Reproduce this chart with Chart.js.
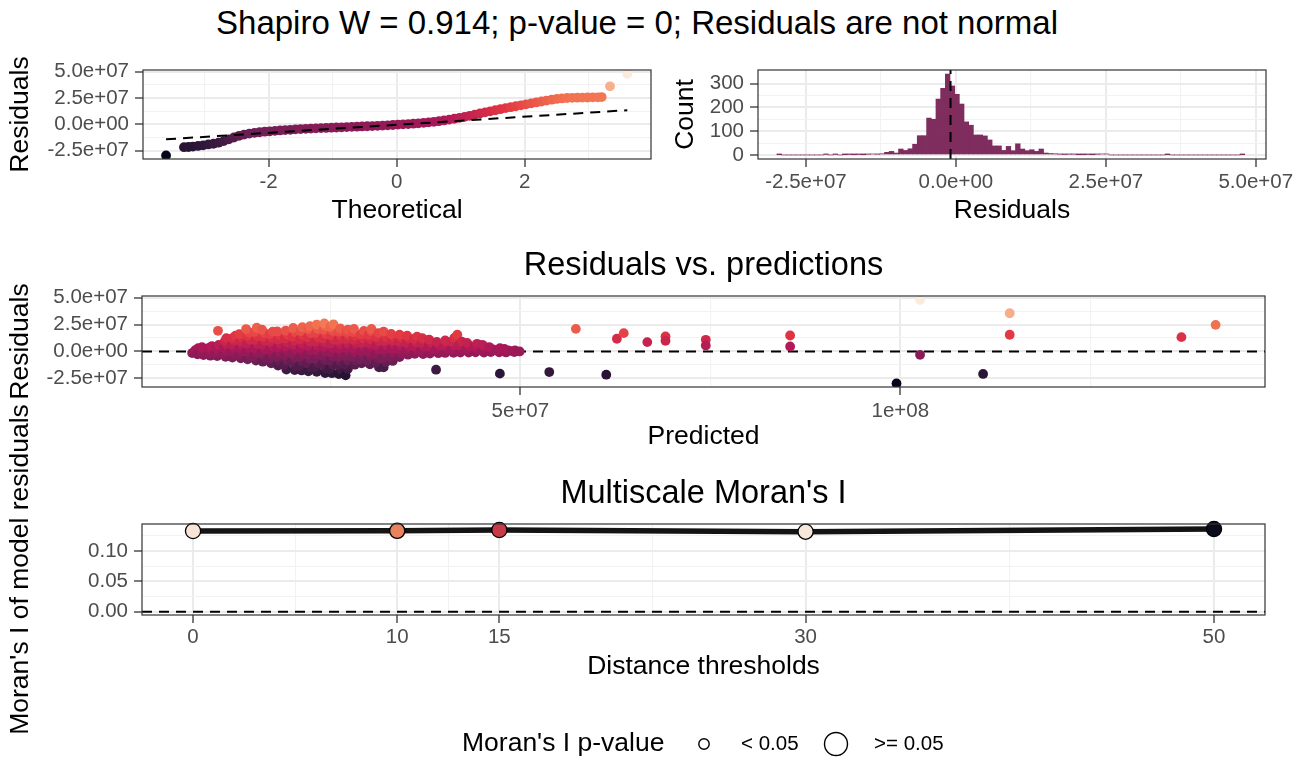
<!DOCTYPE html>
<html>
<head>
<meta charset="utf-8">
<script src="https://cdn.jsdelivr.net/npm/chart.js@4.4.1/dist/chart.umd.min.js"></script>
<style>
html,body{margin:0;padding:0;background:#fff;}
#wrap{position:relative;width:1302px;height:762px;overflow:hidden;background:#fff;}
#wrap canvas{position:absolute;}
#mainTitle{position:absolute;left:0;top:0;width:1274px;height:46px;line-height:46px;text-align:center;
  font-family:"Liberation Sans",Arial,Helvetica,sans-serif;font-size:33px;color:#000;white-space:nowrap;}
</style>
</head>
<body>
<div id="wrap">
  <div id="mainTitle">Shapiro W = 0.914; p-value = 0; Residuals are not normal</div>
  <canvas id="qq" width="660" height="232" style="left:0px;top:0px"></canvas>
  <canvas id="hist" width="642" height="232" style="left:660px;top:0px"></canvas>
  <canvas id="rvp" width="1302" height="230" style="left:0px;top:232px"></canvas>
  <canvas id="moran" width="1302" height="382" style="left:0px;top:380px"></canvas>
</div>
<script>
// ================= DATA (residuals & predictions in millions) =================
const MILLION = 1e6;

// Normal Q-Q plot: theoretical quantile vs sorted residual
const qqTheoretical = [-3.60,-3.32,-3.25,-3.18,-3.10,-3.02,
  -2.94,-2.86,-2.78,-2.70,-2.62,-2.54,-2.46,-2.38,-2.30,-2.22,-2.14,-2.06,
  -1.98,-1.90,-1.82,-1.74,-1.66,-1.58,-1.50,-1.42,-1.34,-1.26,-1.18,-1.10,-1.02,
  -0.94,-0.86,-0.78,-0.70,-0.62,-0.54,-0.46,-0.38,-0.30,-0.22,-0.14,-0.06,
  0.02,0.10,0.18,0.26,0.34,0.42,0.50,0.58,0.66,0.74,0.82,0.90,0.98,
  1.06,1.14,1.22,1.30,1.38,1.46,1.54,1.62,1.70,1.78,1.86,1.94,
  2.02,2.10,2.18,2.26,2.34,2.42,2.50,2.58,2.66,2.74,2.82,2.90,2.98,
  3.06,3.14,3.20,3.33,3.60];
const qqResidualM = [-29.7,-21.8,-21.6,-21.2,-20.6,-20.0,
  -19.2,-18.5,-17.5,-16.0,-14.3,-12.6,-11.0,-9.8,-8.9,-8.2,-7.6,-7.1,
  -6.7,-6.3,-5.9,-5.6,-5.3,-4.9,-4.6,-4.4,-4.1,-3.9,-3.7,-3.5,-3.3,
  -3.1,-2.9,-2.7,-2.5,-2.3,-2.1,-1.9,-1.7,-1.5,-1.3,-1.0,-0.7,
  -0.3,-0.1,0.2,0.5,0.9,1.3,1.8,2.3,2.9,3.6,4.4,5.2,6.1,
  7.0,8.0,9.1,10.2,11.3,12.3,13.3,14.3,15.3,16.2,17.1,18.0,
  18.9,19.8,20.7,21.6,22.5,23.3,24.0,24.5,24.9,25.1,25.2,25.3,25.4,
  25.5,25.6,25.8,36.0,47.8];
const qqLineTheoretical = [-3.6, 3.6];
const qqLineResidualM = [-14.3, 13.3];

// Histogram of residuals (bin left edge, width, counts)
const histFirstEdgeM = -29.85;
const histBinWidthM = 0.78;
const histCounts = [
  1,0,0,0,0,0,0,0,0,0,
  2,0,2,0,1,2,1,2,1,3,
  4,3,5,11,15,8,25,19,26,45,
  81,81,155,150,235,280,340,290,255,214,
  139,125,84,84,80,63,38,38,19,36,
  18,47,25,18,22,15,25,8,6,5,
  3,2,3,3,1,1,2,1,3,4,
  4,0,0,0,0,0,0,0,0,0,
  0,0,0,1,0,0,0,0,0,0,
  0,0,0,0,0,0,0,0,0,1];
const histMedianM = -0.9;

// Residuals vs predictions: [predicted, residual] in millions
const rvpCluster = [
 [6.8,-1.5],[7.2,1.2],[7.6,3.0],[7.5,-2.6],
 [8.3,-3.4],[8.0,-0.6],[8.4,2.2],[8.1,4.0],
 [9.2,-3.9],[8.9,-1.6],[9.3,0.8],[9.0,3.4],[9.4,5.0],
 [10.1,-4.3],[9.8,-2.0],[10.2,0.4],[10.0,2.9],[10.3,6.0],[10.2,19.2],
 [11.2,-5.0],[10.9,-2.4],[11.3,0.2],[11.0,3.1],[11.4,6.3],[11.1,9.4],[11.3,12.4],
 [12.1,-5.6],[12.4,-2.8],[11.9,0.1],[12.3,3.2],[12.0,6.4],[12.4,9.6],[12.1,12.4],[12.5,14.6],
 [13.2,-6.4],[12.9,-3.3],[13.3,-0.1],[13.0,3.1],[13.4,6.3],[13.1,9.6],[13.4,12.9],[13.0,16.1],
 [14.1,-7.3],[14.4,-3.8],[13.9,-0.3],[14.3,3.4],[14.0,7.2],[14.4,11.0],[14.1,14.6],[14.3,17.6],[13.9,20.8],
 [15.2,-8.4],[14.9,-4.6],[15.3,-0.9],[15.0,2.8],[15.4,6.6],[15.1,10.5],[15.4,14.4],[15.0,18.1],[15.3,22.0],
 [16.1,-9.5],[16.4,-5.4],[15.9,-1.6],[16.3,2.3],[16.0,6.1],[16.4,9.8],[16.1,13.7],[16.3,17.2],[16.0,20.2],
 [17.2,-11.0],[16.9,-6.8],[17.3,-2.6],[17.0,1.6],[17.4,5.2],[17.1,9.0],[17.3,12.8],[17.0,16.1],[17.4,18.4],
 [18.1,-13.1],[18.4,-8.9],[17.9,-4.8],[18.3,-0.7],[18.0,3.3],[18.4,7.2],[18.1,11.0],[18.3,14.8],[18.0,18.6],
 [19.2,-16.8],[18.9,-12.4],[19.3,-8.0],[19.0,-3.8],[19.4,0.3],[19.1,4.4],[19.3,8.3],[19.0,12.1],[19.4,15.8],[19.1,19.3],
 [20.3,-17.2],[20.4,-13.6],[19.9,-9.8],[20.3,-5.9],[20.0,-1.9],[20.4,2.2],[20.1,6.1],[20.3,9.9],[20.0,13.8],[20.4,17.9],[20.1,21.8],
 [21.2,-17.6],[20.9,-13.5],[21.3,-9.2],[21.0,-5.0],[21.4,-1.0],[21.1,3.2],[21.3,7.1],[21.0,11.2],[21.4,15.1],[21.1,19.0],[21.3,22.6],
 [22.1,-18.4],[22.4,-14.6],[21.9,-10.8],[22.3,-6.9],[22.0,-3.0],[22.4,0.9],[22.1,5.1],[22.3,9.2],[22.0,13.0],[22.4,17.1],[22.1,20.8],[22.3,23.4],
 [23.2,-18.9],[22.9,-14.8],[23.3,-10.6],[23.0,-6.7],[23.4,-2.6],[23.1,1.3],[23.3,5.2],[23.0,9.1],[23.4,13.2],[23.1,17.0],[23.3,21.1],[23.2,25.0],
 [24.3,-20.0],[24.4,-15.8],[23.9,-11.9],[24.3,-7.9],[24.0,-3.9],[24.4,0.2],[24.1,4.1],[24.3,8.2],[24.0,12.1],[24.4,16.2],[24.1,20.1],[24.3,23.8],[24.2,26.1],
 [25.2,-20.2],[24.9,-16.3],[25.3,-12.4],[25.0,-8.6],[25.4,-4.8],[25.1,-0.9],[25.3,3.1],[25.0,7.2],[25.4,11.0],[25.1,15.1],[25.3,19.2],[25.0,22.9],[25.4,25.2],
 [26.1,-21.0],[26.4,-16.6],[25.9,-12.8],[26.3,-9.0],[26.0,-5.1],[26.4,-1.2],[26.1,2.7],[26.3,6.6],[26.0,10.5],[26.4,14.3],[26.1,18.2],[26.3,21.3],
 [27.0,-22.2],[27.3,-16.0],[26.9,-12.2],[27.3,-8.3],[27.0,-4.4],[27.4,-0.5],[27.1,3.4],[27.3,7.3],[27.0,11.2],[27.4,14.9],[27.1,18.0],[27.3,20.2],
 [28.2,-12.3],[28.4,-8.6],[27.9,-4.9],[28.3,-1.1],[28.0,2.8],[28.4,6.7],[28.1,10.6],[28.3,14.4],[28.0,18.0],[28.1,21.0],
 [29.1,-11.0],[28.9,-7.3],[29.3,-3.5],[29.0,0.3],[29.4,4.2],[29.1,8.1],[29.3,12.0],[29.0,15.8],[29.4,19.1],
 [30.2,-12.0],[29.9,-8.1],[30.3,-4.2],[30.0,-0.3],[30.4,3.6],[30.1,7.5],[30.3,11.4],[30.0,15.2],[30.4,18.8],[30.4,21.0],
 [31.4,-14.8],[31.0,-10.6],[31.3,-6.6],[30.9,-2.6],[31.3,1.4],[31.0,5.4],[31.4,9.4],[31.1,13.3],[31.3,17.0],
 [32.0,-14.8],[32.3,-9.8],[31.9,-5.9],[32.3,-2.0],[32.0,1.9],[32.4,5.8],[32.1,9.7],[32.3,13.5],[32.0,18.5],
 [33.2,-8.8],[32.9,-5.0],[33.3,-1.2],[33.0,2.6],[33.4,6.4],[33.1,10.2],[33.3,13.8],[33.0,16.2],
 [34.1,-5.2],[34.4,-1.6],[33.9,2.0],[34.3,5.6],[34.0,9.2],[34.4,12.6],[34.1,15.6],
 [35.2,-3.0],[34.9,0.6],[35.3,4.2],[35.0,7.8],[35.4,11.2],[35.1,14.6],
 [36.1,-2.2],[36.4,1.4],[35.9,5.0],[36.3,8.6],[36.0,11.6],[36.4,13.8],
 [37.2,-2.4],[36.9,1.0],[37.3,4.4],[37.0,7.8],[37.4,10.4],[37.1,12.4],
 [38.1,-2.0],[38.4,1.6],[37.9,5.0],[38.3,8.3],[38.0,11.0],
 [38.9,-16.9],[39.2,-1.6],[38.9,2.0],[39.3,5.4],[39.0,8.8],
 [40.1,-1.4],[40.4,2.2],[39.9,5.6],[40.3,8.6],[40.1,10.2],
 [41.2,-1.2],[40.9,2.2],[41.3,5.6],[41.0,9.1],[41.3,12.6],
 [41.7,15.5],[42.1,-1.0],[42.4,2.4],[41.9,5.8],[42.3,9.0],
 [43.2,-1.0],[42.9,2.2],[43.3,5.1],[43.0,8.0],
 [44.1,-0.8],[44.4,2.0],[43.9,4.6],[44.3,7.1],
 [45.2,-1.0],[44.9,1.6],[45.3,3.9],[45.0,6.2],
 [46.1,-0.6],[46.4,1.8],[45.9,4.1],
 [47.3,-20.6],[47.2,-0.8],[46.9,1.1],[47.3,3.0],
 [48.1,-0.9],[48.4,0.9],[47.9,2.4],
 [49.2,-0.6],[48.9,0.4],[49.3,1.0],
 [49.9,0.0]
];
const rvpOutliers = [
 [53.8,-19.1],[57.3,21.0],[61.3,-21.6],[62.7,11.8],[63.6,17.0],[66.7,8.7],
 [69.1,13.9],[69.1,9.9],[74.4,10.8],[74.4,5.6],[85.5,14.8],[85.5,4.6],
 [99.5,-29.7],[102.6,47.8],[102.6,-3.1],[110.9,-20.9],[114.4,35.5],[114.4,15.5],
 [137.0,13.3],[141.5,24.7]
];

// Multiscale Moran's I
const moranDistance = [0, 10, 15, 30, 50];
const moranI = [0.1330, 0.1333, 0.1346, 0.1318, 0.1362];
const moranPointFill = ['#F8E4D6', '#E9835E', '#C93A48', '#F7E6DA', '#0B0B1E'];

// Tick labels
const residTicksM = [-25, 0, 25, 50];
const residMinorM = [-12.5, 12.5, 37.5];
const residTickLabels = ['-2.5e+07', '0.0e+00', '2.5e+07', '5.0e+07'];
const qqTicks = [-2, 0, 2];
const qqMinor = [-3, -1, 1, 3];
const qqTickLabels = ['-2', '0', '2'];
const countTicks = [0, 100, 200, 300];
const countMinor = [50, 150, 250];
const countTickLabels = ['0', '100', '200', '300'];
const predTicksM = [50, 100];
const predMinorM = [25, 75, 125];
const predTickLabels = ['5e+07', '1e+08'];
const distTicks = [0, 10, 15, 30, 50];
const distMinor = [5, 12.5, 22.5, 40];
const distTickLabels = ['0', '10', '15', '30', '50'];
const moranTicks = [0, 0.05, 0.10];
const moranMinor = [0.025, 0.075, 0.125];
const moranTickLabels = ['0.00', '0.05', '0.10'];

const legendTitle = "Moran's I p-value";
const legendLabels = ['< 0.05', '>= 0.05'];

// ================= STYLE / HELPERS =================
const FONT = '"Liberation Sans", Arial, Helvetica, sans-serif';
const TICK_FONT = 20.5, AXIS_TITLE_FONT = 26.5, PANEL_TITLE_FONT = 32.5;
Chart.defaults.font.family = FONT;
Chart.defaults.color = '#000';
Chart.defaults.animation = false;
Chart.defaults.events = [];
Chart.defaults.plugins.legend.display = false;
Chart.defaults.plugins.tooltip.enabled = false;

const ROCKET = ['#03051A','#35193E','#701F57','#AD1759','#E13342','#F37651','#F6B48F','#FAEBDD'];
function hexRgb(h){return [parseInt(h.slice(1,3),16),parseInt(h.slice(3,5),16),parseInt(h.slice(5,7),16)];}
function rocket(t){
  t = Math.max(0, Math.min(1, t));
  const n = ROCKET.length - 1;
  const i = Math.min(n - 1, Math.floor(t * n));
  const f = t * n - i;
  const a = hexRgb(ROCKET[i]), b = hexRgb(ROCKET[i + 1]);
  return 'rgb(' + a.map((v, k) => Math.round(v + (b[k] - v) * f)).join(',') + ')';
}
const allResidM = qqResidualM.concat(rvpCluster.map(p => p[1]), rvpOutliers.map(p => p[1]));
const RMIN = Math.min(...allResidM), RMAX = Math.max(...allResidM);
const residColor = m => rocket((m - RMIN) / (RMAX - RMIN));

function axis(o){
  const scale = o.scale || 1;
  const major = o.major.map(v => v * scale);
  const all = o.major.concat(o.minor).map(v => v * scale).sort((a, b) => a - b);
  const isMajor = v => major.some(m => Math.abs(m - v) < 1e-9 * Math.max(1, Math.abs(m)));
  const labelOf = v => { const i = major.findIndex(m => Math.abs(m - v) < 1e-9 * Math.max(1, Math.abs(m))); return i >= 0 ? o.labels[i] : ''; };
  return {
    type: 'linear', position: o.position, min: o.min, max: o.max, offset: false,
    afterBuildTicks: a => { a.ticks = all.map(v => ({value: v})); },
    afterFit: a => {
      if (o.position === 'left') a.width = o.size; else a.height = o.size;
      a.paddingLeft = 0; a.paddingRight = 0; a.paddingTop = 0; a.paddingBottom = 0;
    },
    ticks: {autoSkip: false, maxRotation: 0, minRotation: 0, padding: o.tickPad, color: '#4D4D4D',
      font: {size: TICK_FONT}, callback: v => labelOf(v)},
    grid: {offset: false, drawTicks: true, tickLength: 8, tickWidth: 1.3,
      color: c => (c.tick && isMajor(c.tick.value)) ? '#EBEBEB' : '#F2F2F2',
      lineWidth: c => (c.tick && isMajor(c.tick.value)) ? 2 : 1.1,
      tickColor: c => (c.tick && isMajor(c.tick.value)) ? '#333333' : 'rgba(0,0,0,0)'},
    border: {display: false},
    title: {display: true, text: o.title, color: '#000', font: {size: AXIS_TITLE_FONT}, padding: o.titlePad}
  };
}

const panelBorder = {
  id: 'panelBorder',
  afterDatasetsDraw(chart){
    const {ctx, chartArea: a} = chart;
    ctx.save(); ctx.strokeStyle = '#333333'; ctx.lineWidth = 1.2;
    ctx.strokeRect(a.left, a.top, a.right - a.left, a.bottom - a.top);
    ctx.restore();
  }
};
const dashed = {borderColor: '#000', borderWidth: 2, borderDash: [10, 7], pointRadius: 0, fill: false};

// ================= Q-Q PLOT =================
const qqPoints = qqTheoretical.map((t, i) => ({x: t, y: qqResidualM[i] * MILLION}));
const qqLine = qqLineTheoretical.map((t, i) => ({x: t, y: qqLineResidualM[i] * MILLION}));
new Chart(document.getElementById('qq'), {
  type: 'scatter',
  data: {datasets: [
    Object.assign({type: 'line', data: qqLine, order: 0, clip: 0}, dashed),
    {data: qqPoints, order: 1, clip: 0, pointRadius: 4.9, pointBorderWidth: 0,
     pointBackgroundColor: qqResidualM.map(residColor)}
  ]},
  options: {responsive: false, layout: {padding: {top: 70, left: 0, right: 9, bottom: 0}},
    scales: {
      x: axis({position: 'bottom', min: -3.96, max: 3.97, major: qqTicks, minor: qqMinor, labels: qqTickLabels,
               size: 73, tickPad: 2.7, title: 'Theoretical', titlePad: {bottom: 5.6}}),
      y: axis({position: 'left', min: -33e6, max: 51.5e6, scale: MILLION, major: residTicksM, minor: residMinorM,
               labels: residTickLabels, size: 143, tickPad: 6, title: 'Residuals', titlePad: {top: 5.1}})
    }},
  plugins: [panelBorder]
});

// ================= HISTOGRAM =================
const histBars = histCounts.map((c, i) => ({x: (histFirstEdgeM + histBinWidthM * (i + 0.5)) * MILLION, y: c}));
new Chart(document.getElementById('hist'), {
  type: 'bar',
  data: {datasets: [
    Object.assign({type: 'line', data: [{x: histMedianM * MILLION, y: -17}, {x: histMedianM * MILLION, y: 357}], order: 0}, dashed),
    {type: 'bar', data: histBars, order: 1, backgroundColor: '#7F2D5E', borderWidth: 0,
     barPercentage: 1, categoryPercentage: 1}
  ]},
  options: {responsive: false, layout: {padding: {top: 70, left: 0, right: 36, bottom: 0}},
    scales: {
      x: axis({position: 'bottom', min: -33e6, max: 51.7e6, scale: MILLION, major: residTicksM, minor: residMinorM,
               labels: residTickLabels, size: 73, tickPad: 2.7, title: 'Residuals', titlePad: {bottom: 5.6}}),
      y: axis({position: 'left', min: -17, max: 357, major: countTicks, minor: countMinor, labels: countTickLabels,
               size: 98, tickPad: 6, title: 'Count', titlePad: {top: 10.1}})
    }},
  plugins: [panelBorder]
});

// ================= RESIDUALS VS PREDICTIONS =================
const rvpAll = rvpCluster.concat(rvpOutliers);
new Chart(document.getElementById('rvp'), {
  type: 'scatter',
  data: {datasets: [
    {data: rvpAll.map(p => ({x: p[0] * MILLION, y: p[1] * MILLION})), order: 0, clip: 0,
     pointRadius: 4.9, pointBorderWidth: 0, pointBackgroundColor: rvpAll.map(p => residColor(p[1]))},
    Object.assign({type: 'line', data: [{x: 0.2e6, y: 0}, {x: 148e6, y: 0}], order: 1}, dashed)
  ]},
  options: {responsive: false, layout: {padding: {top: 0, left: 0, right: 37, bottom: 0}},
    plugins: {title: {display: true, text: 'Residuals vs. predictions', color: '#000', fullSize: false,
      font: {size: PANEL_TITLE_FONT, weight: 'normal'}, padding: {top: 14.5, bottom: 10.5}}},
    scales: {
      x: axis({position: 'bottom', min: 0.2e6, max: 148e6, scale: MILLION, major: predTicksM, minor: predMinorM,
               labels: predTickLabels, size: 75, tickPad: 3.7, title: 'Predicted', titlePad: {bottom: 9.1}}),
      y: axis({position: 'left', min: -33e6, max: 51.5e6, scale: MILLION, major: residTicksM, minor: residMinorM,
               labels: residTickLabels, size: 142, tickPad: 6, title: 'Residuals', titlePad: {top: 5.1}})
    }},
  plugins: [panelBorder]
});

// ================= MULTISCALE MORAN'S I =================
const pLegend = {
  id: 'pLegend',
  afterDraw(chart){
    const ctx = chart.ctx, y = 364;
    ctx.save();
    ctx.textBaseline = 'middle'; ctx.textAlign = 'left'; ctx.fillStyle = '#000';
    ctx.font = '26.5px ' + FONT;
    ctx.fillText(legendTitle, 462, y);
    ctx.font = '20.5px ' + FONT;
    ctx.fillText(legendLabels[0], 741, y);
    ctx.fillText(legendLabels[1], 874, y);
    ctx.lineWidth = 1.4; ctx.strokeStyle = '#000'; ctx.fillStyle = '#fff';
    ctx.beginPath(); ctx.arc(704, y, 5.2, 0, Math.PI * 2); ctx.fill(); ctx.stroke();
    ctx.beginPath(); ctx.arc(836, y, 11.5, 0, Math.PI * 2); ctx.fill(); ctx.stroke();
    ctx.restore();
  }
};
const moranPoints = moranDistance.map((d, i) => ({x: d, y: moranI[i]}));
new Chart(document.getElementById('moran'), {
  type: 'scatter',
  data: {datasets: [
    {data: moranPoints, order: 0, clip: false, pointRadius: 7.6, pointBackgroundColor: moranPointFill,
     pointBorderColor: '#000', pointBorderWidth: 1.3},
    {type: 'line', data: moranPoints, order: 1, borderColor: '#141414', borderWidth: 5.5, pointRadius: 0, fill: false},
    Object.assign({type: 'line', data: [{x: -2.5, y: 0}, {x: 52.5, y: 0}], order: 2}, dashed)
  ]},
  options: {responsive: false, layout: {padding: {top: 82, left: 0, right: 37, bottom: 77}},
    plugins: {title: {display: true, text: "Multiscale Moran's I", color: '#000', fullSize: false,
      font: {size: PANEL_TITLE_FONT, weight: 'normal'}, padding: {top: 12.5, bottom: 10.5}}},
    scales: {
      x: axis({position: 'bottom', min: -2.5, max: 52.5, major: distTicks, minor: distMinor, labels: distTickLabels,
               size: 70, tickPad: 2.2, title: 'Distance thresholds', titlePad: {bottom: 2.1}}),
      y: axis({position: 'left', min: -0.0054, max: 0.1445, major: moranTicks, minor: moranMinor,
               labels: moranTickLabels, size: 142, tickPad: 6, title: "Moran's I of model residuals", titlePad: {top: 5.1}})
    }},
  plugins: [panelBorder, pLegend]
});
</script>
</body>
</html>
